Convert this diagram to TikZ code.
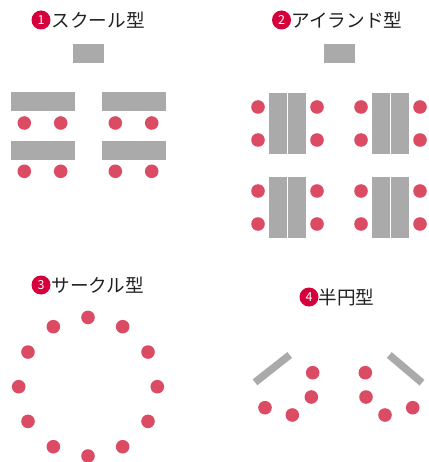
\documentclass[tikz,border=0pt]{standalone}
\usepackage{fontspec}
\newfontfamily\jp{Noto Sans CJK JP}
\definecolor{desk}{HTML}{AAAAAA}
\definecolor{seat}{HTML}{DC4B64}
\definecolor{numred}{HTML}{D5003B}
\begin{document}
\begin{tikzpicture}[x=1pt,y=-1pt,
  seatdot/.style={circle,fill=seat,minimum size=13.6pt,inner sep=0pt},
  numbadge/.style={circle,fill=numred,text=white,minimum size=19pt,inner sep=0pt,font=\jp\fontsize{12.5}{12.5}\selectfont},
  title/.style={anchor=west,inner sep=0pt,font=\jp\fontsize{18.6}{18.6}\selectfont,text=black!87},
  deskbar/.style={desk,line width=7.5pt}]
\useasboundingbox (0,0) rectangle (428,462);

% ---- Panel 1: school
\node[numbadge] (n1) at (41,20) {1};
\node[title] (t1) at (51.5,20) {スクール型};
\fill[desk] (73,44) rectangle (104,63);
\foreach \x/\y [count=\i] in {11/92,102/92,11/141,102/141}
  \fill[desk] (\x,\y) rectangle ++(64,19);
\foreach \x [count=\i] in {24.3,60.7,115.3,151.7}
  \foreach \y [count=\j] in {123,171.3}
    \node[seatdot] (s\i-\j) at (\x,\y) {};

% ---- Panel 2: island
\node[numbadge] (n2) at (281.5,20) {2};
\node[title] (t2) at (291.5,20) {アイランド型};
\fill[desk] (324,44) rectangle (355,63);
\foreach \xo [count=\i] in {269,372}
  \foreach \yo [count=\j] in {93,177} {
    \fill[desk] (\xo,\yo) rectangle ++(18,61);
    \fill[desk] (\xo+19,\yo) rectangle ++(18,61);
    \node[seatdot] (ia\i-\j) at (\xo-11,\yo+14) {};
    \node[seatdot] (ib\i-\j) at (\xo-11,\yo+47) {};
    \node[seatdot] (ic\i-\j) at (\xo+48,\yo+14) {};
    \node[seatdot] (id\i-\j) at (\xo+48,\yo+47) {};
  }

% ---- Panel 3: circle
\node[numbadge] (n3) at (41,285) {3};
\node[title] (t3) at (51.5,285) {サークル型};
\foreach \a [count=\i] in {0,30,...,330}
  \node[seatdot] (c\i) at ({88+69.3*cos(\a)},{386.7+69.3*sin(\a)}) {};

% ---- Panel 4: half circle
\node[numbadge] (n4) at (309,297) {4};
\node[title] (t4) at (318.5,297) {半円型};
\draw[deskbar] (255,382.3) -- (289.7,355);
\draw[deskbar] (389.3,355) -- (422,382.7);
\foreach \x/\y [count=\i] in {312.7/372.7,311.3/397,265/407.7,292.3/415,365.3/372.7,366/397,385/415,412.7/407.7}
  \node[seatdot] (h\i) at (\x,\y) {};
\end{tikzpicture}
\end{document}
